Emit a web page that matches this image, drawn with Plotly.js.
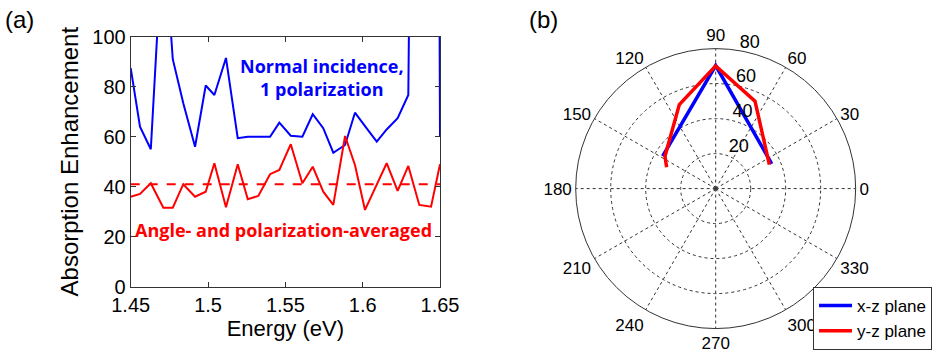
<!DOCTYPE html>
<html>
<head>
<meta charset="utf-8">
<script src="https://cdn.plot.ly/plotly-3.0.1.min.js"></script>
<style>html,body{margin:0;padding:0;background:#fff;}#chart{width:937px;height:352px;}</style>
</head>
<body>
<div id="chart"></div>
<script>
// Panel (a): energy grid (eV)
var energy = [1.450,1.456,1.463,1.4711,1.4772,1.484,1.4916,1.4985,1.5041,1.5116,
              1.5192,1.5257,1.5325,1.5401,1.5461,1.5535,1.561,1.5677,1.5745,1.581,
              1.5886,1.595,1.6015,1.6091,1.6155,1.6226,1.6295,1.6366,1.6442,1.650];
// Normal incidence, 1 polarization (blue)
var normalInc = [87.4,64,55,145,91,73.4,56,80.5,76.7,91.5,
                 59.4,60,60,60,65.6,60.4,60,69,63.4,53.6,
                 56.7,69.6,64.2,58,62.9,67.4,76.7,500,1000,60];
// Angle- and polarization-averaged (red)
var averaged = [36,37.1,41.4,31.6,31.6,41,36,38,49.4,31.8,
                49,35,36.3,45,46.7,57,41.4,48,38,32.7,
                60.3,48.7,30.7,40.7,49.4,38.3,48.3,32.7,32,49];
var avgLevelX = [1.45, 1.65];
var avgLevelY = [41, 41];
var xTicks = [1.45, 1.5, 1.55, 1.6, 1.65];
var xTickText = ['1.45', '1.5', '1.55', '1.6', '1.65'];
var yTicks = [0, 20, 40, 60, 80, 100];

// Panel (b): polar data
var xzTheta = [23.8, 90, 148.6];
var xzR = [35.0, 70.3, 35.5];
var yzTheta = [24.1, 65.8, 90, 113.4, 147.4, 156.4];
var yzR = [33.6, 54.8, 70.1, 52.3, 34.4, 30.6];
var angTicks = [0,30,60,90,120,150,180,210,240,270,300,330];
var radTicks = [20, 40, 60, 80];
var radTickText = ['20<br> ', '40<br> ', '60<br> ', '80<br> '];

var FONT = 'Liberation Sans, Arial, sans-serif';

var traces = [
  {x: energy, y: normalInc, type: 'scatter', mode: 'lines', line: {color: '#0000ff', width: 2},
   xaxis: 'x', yaxis: 'y', showlegend: false},
  {x: energy, y: averaged, type: 'scatter', mode: 'lines', line: {color: '#ff0000', width: 2},
   xaxis: 'x', yaxis: 'y', showlegend: false},
  {x: avgLevelX, y: avgLevelY, type: 'scatter', mode: 'lines', line: {color: '#ff0000', width: 2, dash: 'dash'},
   xaxis: 'x', yaxis: 'y', showlegend: false},
  {type: 'scatterpolar', theta: xzTheta, r: xzR, mode: 'lines', name: 'x-z plane',
   line: {color: '#0000ff', width: 3.5}, subplot: 'polar'},
  {type: 'scatterpolar', theta: yzTheta, r: yzR, mode: 'lines', name: 'y-z plane',
   line: {color: '#ff0000', width: 3.5}, subplot: 'polar'}
];

var layout = {
  width: 937, height: 352,
  margin: {l: 0, r: 0, t: 0, b: 0},
  paper_bgcolor: '#fff', plot_bgcolor: '#fff',
  font: {family: FONT, size: 18, color: '#000'},
  xaxis: {
    domain: [0.1395, 0.4696], range: [1.45, 1.65],
    tickvals: xTicks, ticktext: xTickText,
    ticks: 'inside', ticklen: 5, tickcolor: '#333', mirror: 'ticks',
    showline: true, linecolor: '#333', linewidth: 1, showgrid: false, zeroline: false,
    tickfont: {family: FONT, size: 20}, anchor: 'y',
    title: {text: 'Energy (eV)', font: {family: FONT, size: 22}, standoff: 4}
  },
  yaxis: {
    domain: [0.1855, 0.8957], range: [0, 100],
    tickvals: yTicks,
    ticks: 'inside', ticklen: 5, tickcolor: '#333', mirror: 'ticks',
    showline: true, linecolor: '#333', linewidth: 1, showgrid: false, zeroline: false,
    tickfont: {family: FONT, size: 20}, anchor: 'x',
    title: {text: 'Absorption Enhancement', font: {family: FONT, size: 24}, standoff: 6}
  },
  polar: {
    domain: {x: [0.6144, 0.9132], y: [0.0665, 0.862]},
    bgcolor: '#fff',
    angularaxis: {
      rotation: 0, direction: 'counterclockwise',
      tickvals: angTicks, ticks: '',
      showline: true, linecolor: '#333', linewidth: 1,
      showgrid: true, gridcolor: '#333', gridwidth: 1, griddash: 'dot',
      tickfont: {family: FONT, size: 17}
    },
    radialaxis: {
      range: [0, 80], tickvals: radTicks, ticktext: radTickText,
      angle: 84, side: 'clockwise', tickangle: 84,
      showline: false, ticks: '',
      showgrid: true, gridcolor: '#333', gridwidth: 1, griddash: 'dot',
      tickfont: {family: FONT, size: 18}
    }
  },
  showlegend: true,
  legend: {
    x: 0.8677, y: 0.1847, xanchor: 'left', yanchor: 'top',
    bgcolor: '#fff', bordercolor: '#333', borderwidth: 1,
    font: {family: FONT, size: 17}, tracegroupgap: 0, itemwidth: 33
  },
  annotations: [
    {text: 'Normal incidence,<br>1 polarization', x: 1.5734, y: 83.7, xref: 'x', yref: 'y',
     showarrow: false, font: {family: 'Open Sans, sans-serif', size: 18, color: '#0000ff', weight: 'bold'},
     align: 'center'},
    {text: 'Angle- and polarization-averaged', x: 1.5485, y: 22.7, xref: 'x', yref: 'y',
     showarrow: false, font: {family: 'Open Sans, sans-serif', size: 18, color: '#ff0000', weight: 'bold'}},
    {text: '(a)', x: 3 / 937, y: 1 - 20 / 352, xref: 'paper', yref: 'paper', xanchor: 'left', yanchor: 'middle',
     showarrow: false, font: {family: FONT, size: 24}},
    {text: '(b)', x: 527 / 937, y: 1 - 20 / 352, xref: 'paper', yref: 'paper', xanchor: 'left', yanchor: 'middle',
     showarrow: false, font: {family: FONT, size: 24}}
  ]
};

Plotly.newPlot('chart', traces, layout, {staticPlot: true, displayModeBar: false});
</script>
</body>
</html>
